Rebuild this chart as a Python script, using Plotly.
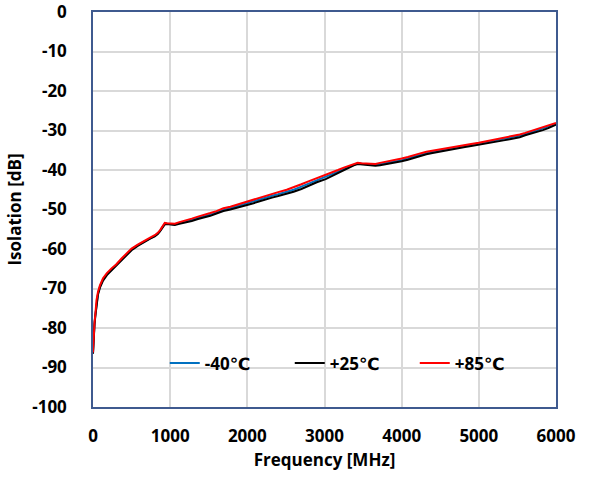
import plotly.graph_objects as go

# Frequency sweep points (MHz)
freq_mhz = [0, 10, 20, 30, 45, 65, 90, 130, 180, 240, 300, 370, 430, 500, 580, 670, 740, 800,
            840, 870, 900, 930, 960, 1000, 1060, 1120, 1200, 1280, 1360, 1440, 1520, 1600,
            1690, 1780, 1860, 1940, 2000, 2080, 2160, 2240, 2320, 2400, 2510, 2600, 2700,
            2800, 2900, 3015, 3100, 3175, 3250, 3320, 3380, 3430, 3480, 3540, 3600, 3660,
            3720, 3780, 3850, 3920, 4000, 4080, 4160, 4240, 4320, 4400, 4495, 4580, 4660,
            4740, 4820, 4900, 5000, 5080, 5160, 5240, 5320, 5400, 5480, 5530, 5600, 5680,
            5760, 5830, 5900, 5960, 6000]

# Isolation (dB) at +85 C
iso_p85 = [-86.2, -81.0, -78.5, -76.6, -73.0, -70.8, -69.2, -67.4, -66.1, -64.9, -63.9, -62.4,
           -61.2, -59.9, -58.9, -57.8, -57.1, -56.5, -55.9, -55.2, -54.3, -53.4, -53.5, -53.6,
           -53.6, -53.2, -52.8, -52.3, -51.8, -51.4, -50.9, -50.4, -49.7, -49.3, -48.8, -48.4,
           -48.0, -47.5, -47.0, -46.5, -46.0, -45.6, -45.0, -44.4, -43.6, -42.8, -42.1, -41.3,
           -40.6, -40.0, -39.4, -38.9, -38.5, -38.2, -38.3, -38.4, -38.5, -38.5, -38.2, -38.0,
           -37.7, -37.4, -37.1, -36.7, -36.2, -35.8, -35.4, -35.1, -34.8, -34.5, -34.2, -33.9,
           -33.6, -33.4, -33.1, -32.8, -32.5, -32.2, -31.9, -31.5, -31.2, -31.0, -30.6, -30.1,
           -29.7, -29.3, -28.9, -28.4, -28.1]

# Isolation (dB) at +25 C
iso_p25 = [-86.5, -81.5, -79.0, -77.0, -73.8, -71.5, -69.8, -68.0, -66.6, -65.4, -64.3, -62.9,
           -61.6, -60.3, -59.2, -58.1, -57.4, -56.8, -56.2, -55.5, -54.6, -53.8, -53.7, -53.8,
           -53.9, -53.6, -53.3, -52.9, -52.4, -52.0, -51.6, -51.0, -50.4, -50.0, -49.6, -49.1,
           -48.8, -48.4, -47.9, -47.4, -47.0, -46.6, -46.1, -45.5, -44.8, -43.9, -43.1, -42.3,
           -41.5, -40.8, -40.0, -39.3, -38.8, -38.5, -38.6, -38.8, -38.9, -38.9, -38.8, -38.6,
           -38.3, -38.1, -37.8, -37.4, -36.9, -36.4, -36.0, -35.7, -35.4, -35.1, -34.8, -34.5,
           -34.2, -33.9, -33.6, -33.3, -33.1, -32.8, -32.5, -32.2, -31.9, -31.7, -31.2, -30.8,
           -30.3, -29.9, -29.4, -28.9, -28.5]

# Isolation (dB) at -40 C
iso_m40 = [-86.4, -81.3, -78.8, -76.8, -73.5, -71.2, -69.5, -67.7, -66.4, -65.2, -64.1, -62.7,
           -61.4, -60.1, -59.0, -58.0, -57.3, -56.7, -56.0, -55.4, -54.4, -53.6, -53.6, -53.7,
           -53.8, -53.4, -53.0, -52.6, -52.1, -51.7, -51.3, -50.7, -50.1, -49.7, -49.2, -48.8,
           -48.4, -48.0, -47.5, -47.0, -46.5, -46.1, -45.6, -45.0, -44.2, -43.4, -42.6, -41.8,
           -41.1, -40.4, -39.7, -39.1, -38.6, -38.3, -38.4, -38.6, -38.7, -38.7, -38.5, -38.3,
           -38.0, -37.8, -37.5, -37.0, -36.6, -36.1, -35.7, -35.4, -35.1, -34.8, -34.5, -34.2,
           -33.9, -33.6, -33.3, -33.0, -32.8, -32.5, -32.2, -31.9, -31.5, -31.3, -30.9, -30.4,
           -30.0, -29.6, -29.1, -28.6, -28.3]

series = [
    ("-40℃", iso_m40, "#0070C0"),
    ("+25℃", iso_p25, "#000000"),
    ("+85℃", iso_p85, "#FF0000"),
]

x_ticks = [0, 1000, 2000, 3000, 4000, 5000, 6000]
y_ticks = [0, -10, -20, -30, -40, -50, -60, -70, -80, -90, -100]

font_family = "Open Sans, DejaVu Sans, sans-serif"

fig = go.Figure()
for name, vals, color in series:
    fig.add_trace(go.Scatter(
        x=freq_mhz, y=vals, mode="lines", name=name,
        line=dict(color=color, width=2),
    ))

axis_common = dict(
    showline=True, linecolor="#3F5A8F", linewidth=1.5, mirror=True,
    showgrid=True, gridcolor="#D9D9D9", gridwidth=1.5,
    zeroline=False, ticks="", automargin=False, ticklabeloverflow="allow",
    tickfont=dict(family=font_family, size=17, color="#000000", weight="bold"),
)

fig.update_layout(
    width=590, height=479,
    margin=dict(l=93, r=34, t=12, b=72),
    paper_bgcolor="white", plot_bgcolor="white",
    font=dict(family=font_family, color="#000000"),
    xaxis=dict(
        range=[0, 6000], tickvals=x_ticks, ticktext=[str(v) for v in x_ticks],
        ticklabelstandoff=13,
        title=dict(text="Frequency [MHz]", standoff=8,
                   font=dict(family=font_family, size=17, weight="bold")),
        **axis_common,
    ),
    yaxis=dict(
        range=[-100, 0], tickvals=y_ticks, ticktext=[str(v) for v in y_ticks],
        ticklabelstandoff=21,
        title=dict(text="Isolation [dB]", standoff=6,
                   font=dict(family=font_family, size=17, weight="bold")),
        **axis_common,
    ),
    legend=dict(
        orientation="h", x=0.155, y=0.11, xanchor="left", yanchor="middle",
        bgcolor="rgba(0,0,0,0)",
        entrywidth=80, entrywidthmode="pixels",
        font=dict(family=font_family, size=17, weight="bold", color="#000000"),
    ),
)

fig.write_html("out.html")
